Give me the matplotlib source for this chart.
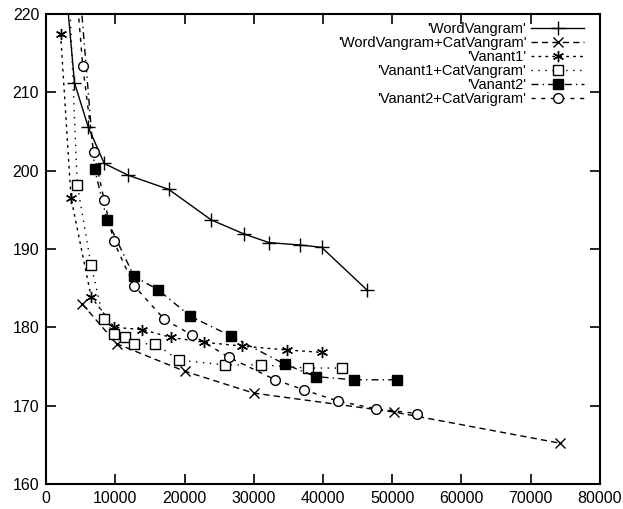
import matplotlib
matplotlib.use("Agg")
import matplotlib.pyplot as plt

# values (first points of some curves sit above the frame)
word_x = [2600, 4100, 6100, 8400, 11850, 17700, 23850, 28600, 32200, 36650, 39800, 46300]
word_y = [226.0, 211.2, 205.5, 200.9, 199.4, 197.6, 193.7, 191.9, 190.8, 190.5, 190.2, 184.8]

wordcat_x = [5200, 10200, 20000, 30000, 50200, 74300]
wordcat_y = [183.0, 177.9, 174.4, 171.6, 169.2, 165.2]

var1_x = [2100, 3600, 6500, 9850, 13900, 18100, 22750, 28350, 34850, 39800]
var1_y = [217.4, 196.5, 183.9, 180.0, 179.7, 178.7, 178.1, 177.6, 177.1, 176.8]

var1cat_x = [3300, 4500, 6500, 8300, 9850, 11350, 12700, 15800, 19150, 25850, 31100, 37800, 42800]
var1cat_y = [224.0, 198.2, 187.9, 181.0, 179.2, 178.7, 177.9, 177.9, 175.8, 175.2, 175.2, 174.8, 174.8]

var2_x = [4600, 7000, 8800, 12700, 16150, 20850, 26650, 34450, 39000, 44500, 50700]
var2_y = [226.0, 200.2, 193.7, 186.5, 184.8, 181.4, 178.9, 175.3, 173.7, 173.3, 173.3]

var2cat_x = [4300, 5300, 6850, 8400, 9750, 12700, 17100, 21100, 26350, 33100, 37300, 42100, 47600, 53600]
var2cat_y = [224.0, 213.3, 202.4, 196.2, 191.0, 185.3, 181.0, 179.0, 176.2, 173.3, 172.0, 170.6, 169.6, 169.0]

labels = ["'WordVangram'", "'WordVangram+CatVangram'", "'Vanant1'",
          "'Vanant1+CatVangram'", "'Vanant2'", "'Vanant2+CatVarigram'"]

xticks = list(range(0, 80001, 10000))
yticks = list(range(160, 221, 10))

plt.rcParams["font.family"] = ["Liberation Sans", "DejaVu Sans"]

fig = plt.figure(figsize=(6.23, 5.09), dpi=100)
ax = fig.add_axes([0.074, 0.049, 0.889, 0.924])

series = [
    (word_x, word_y, dict(ls="-", marker="+", ms=10, mfc="none")),
    (wordcat_x, wordcat_y, dict(ls=(0, (4.5, 3)), marker="x", ms=7.5, mfc="none")),
    (var1_x, var1_y, dict(ls=(0, (2, 3)), marker=(6, 2, 0), ms=8, mfc="none")),
    (var1cat_x, var1cat_y, dict(ls=(0, (1, 4)), marker="s", ms=7, mfc="white")),
    (var2_x, var2_y, dict(ls=(0, (5, 3, 1, 3)), marker="s", ms=7, mfc="black")),
    (var2cat_x, var2cat_y, dict(ls=(0, (3, 4)), marker="o", ms=7, mfc="white")),
]
for (xs, ys, st), lab in zip(series, labels):
    ax.plot(xs, ys, color="black", lw=1.0, mec="black", mew=1.0, label=lab, **st)

ax.set_xlim(0, 80000)
ax.set_ylim(160, 220)
ax.set_xticks(xticks)
ax.set_yticks(yticks)
ax.tick_params(direction="in", length=7, width=1.2, top=True, right=True,
               labelsize=11.5, pad=5)
for s in ax.spines.values():
    s.set_linewidth(1.5)

leg = ax.legend(loc="upper right", bbox_to_anchor=(0.971, 0.982), frameon=False,
                markerfirst=False, fontsize=10.5, handlelength=3.6, handletextpad=0.35,
                labelspacing=0.0, borderpad=0.0, borderaxespad=0.0)
for t in leg.get_texts():
    t.set_ha("right")
leg._legend_box.align = "right"

fig.savefig("out.png", dpi=100)
